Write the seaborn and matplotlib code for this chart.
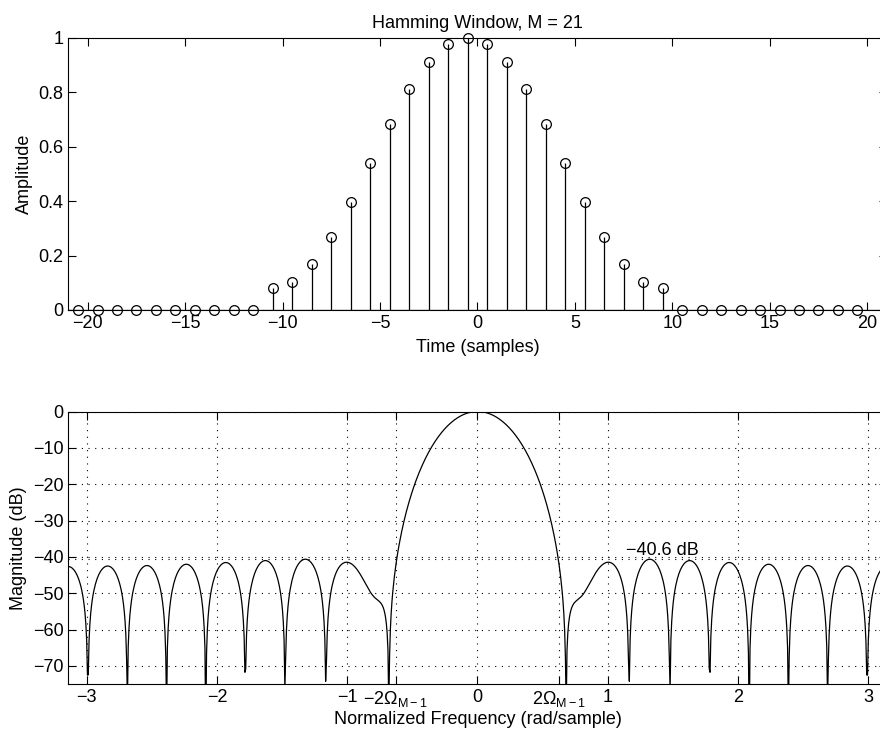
import numpy as np
import seaborn as sns
import matplotlib
matplotlib.use("Agg")
import matplotlib.pyplot as plt

# sample positions (half-integer, window centred at -0.5)
sample_pos = np.arange(-20.5, 20.0, 1.0)

# Hamming window, M = 21, padded with zeros on both sides
hamming_21 = [0.08, 0.1024, 0.1679, 0.2696, 0.3979, 0.54, 0.6821, 0.8104,
              0.9121, 0.9776, 1.0, 0.9776, 0.9121, 0.8104, 0.6821, 0.54,
              0.3979, 0.2696, 0.1679, 0.1024, 0.08]
amplitude = [0.0] * 10 + hamming_21 + [0.0] * 10

top_xticks = [-20, -15, -10, -5, 0, 5, 10, 15, 20]
top_yticks = [0, 0.2, 0.4, 0.6, 0.8, 1]
top_yticklabels = ["0", "0.2", "0.4", "0.6", "0.8", "1"]

two_omega = 2 * 2 * np.pi / 20  # 2 * Omega_{M-1}
bot_xticks = [-3, -2, -1, -two_omega, 0, two_omega, 1, 2, 3]
bot_xticklabels = ["\u22123", "\u22122", "\u22121", r"$\mathrm{-2\Omega_{M-1}}$", "0",
                   r"$\mathrm{2\Omega_{M-1}}$", "1", "2", "3"]
bot_yticks = [-70, -60, -50, -40, -30, -20, -10, 0]
sidelobe_db = -40.6


def set_config():
    sns.set_theme(style="ticks")
    plt.rcParams["font.family"] = ["Liberation Sans", "DejaVu Sans"]
    plt.rcParams["mathtext.fontset"] = "custom"
    plt.rcParams["mathtext.rm"] = "Liberation Sans"
    plt.rcParams["mathtext.it"] = "Liberation Sans:italic"
    plt.rcParams["font.size"] = 13
    plt.rcParams["axes.labelsize"] = 13
    plt.rcParams["axes.titlesize"] = 13
    plt.rcParams["text.color"] = "black"
    plt.rcParams["axes.labelcolor"] = "black"
    plt.rcParams["axes.linewidth"] = 0.8
    plt.rcParams["axes.edgecolor"] = "black"
    plt.rcParams["xtick.direction"] = "in"
    plt.rcParams["ytick.direction"] = "in"
    plt.rcParams["xtick.top"] = True
    plt.rcParams["ytick.right"] = True
    plt.rcParams["xtick.major.size"] = 6
    plt.rcParams["ytick.major.size"] = 6
    plt.rcParams["xtick.major.width"] = 0.8
    plt.rcParams["ytick.major.width"] = 0.8
    plt.rcParams["xtick.labelsize"] = 13
    plt.rcParams["ytick.labelsize"] = 13
    plt.rcParams["xtick.color"] = "black"
    plt.rcParams["ytick.color"] = "black"
    plt.rcParams["xtick.labelcolor"] = "black"
    plt.rcParams["ytick.labelcolor"] = "black"


def spectrum_db(window, nfft=1024):
    W = np.fft.fftshift(np.fft.fft(window, nfft))
    w = np.fft.fftshift(np.fft.fftfreq(nfft)) * 2 * np.pi
    mag = np.abs(W) / np.abs(W).max()
    db = 20 * np.log10(np.maximum(mag, 1e-12))
    return w, db


def main():
    set_config()
    fig = plt.figure(figsize=(8.8, 7.33), dpi=100)
    left, width = 0.0776, 0.930

    # top: the window in time
    ax1 = fig.add_axes([left, 0.5771, width, 0.3715])
    nz = [(p, a) for p, a in zip(sample_pos, amplitude) if a > 0]
    ax1.vlines([p for p, _ in nz], 0, [a for _, a in nz], color="black", lw=0.9)
    ax1.axhline(0, color="black", lw=0.9)
    sns.lineplot(x=sample_pos, y=amplitude, ax=ax1, estimator=None, linestyle="",
                 marker="o", markersize=7, markerfacecolor="none",
                 markeredgecolor="black", markeredgewidth=0.9, clip_on=False, zorder=5)
    ax1.set_xlim(-21, 21)
    ax1.set_ylim(0, 1)
    ax1.set_xticks(top_xticks)
    ax1.set_xticklabels([f"{t}".replace("-", "\u2212") for t in top_xticks])
    ax1.set_yticks(top_yticks)
    ax1.set_yticklabels(top_yticklabels)
    ax1.set_title("Hamming Window, M = 21", pad=7)
    ax1.set_xlabel("Time (samples)", va="top")
    ax1.set_ylabel("Amplitude")
    ax1.xaxis.set_label_coords(0.5, -0.108)
    ax1.yaxis.set_label_coords(-0.043, 0.5)

    # bottom: magnitude response
    ax2 = fig.add_axes([left, 0.0668, width, 0.3718])
    w, db = spectrum_db(hamming_21)
    sns.lineplot(x=w, y=db, ax=ax2, estimator=None, sort=False,
                 color="black", lw=0.9)
    ax2.set_xlim(-np.pi, np.pi)
    ax2.set_ylim(-75, 0)
    ax2.set_xticks(bot_xticks)
    ax2.set_xticklabels(bot_xticklabels)
    ax2.set_yticks(bot_yticks)
    ax2.grid(True, color="black", linestyle=(0, (1, 5)), lw=0.8)
    ax2.axhline(sidelobe_db, color="black", linestyle=(0, (1, 5)), lw=0.8)
    ax2.text(1.14, sidelobe_db, "\u221240.6 dB", va="bottom", ha="left")
    ax2.set_xlabel("Normalized Frequency (rad/sample)", va="top")
    ax2.set_ylabel("Magnitude (dB)")
    ax2.xaxis.set_label_coords(0.5, -0.1)
    ax2.yaxis.set_label_coords(-0.051, 0.5)

    fig.savefig("out.png", dpi=100)


if __name__ == "__main__":
    main()
